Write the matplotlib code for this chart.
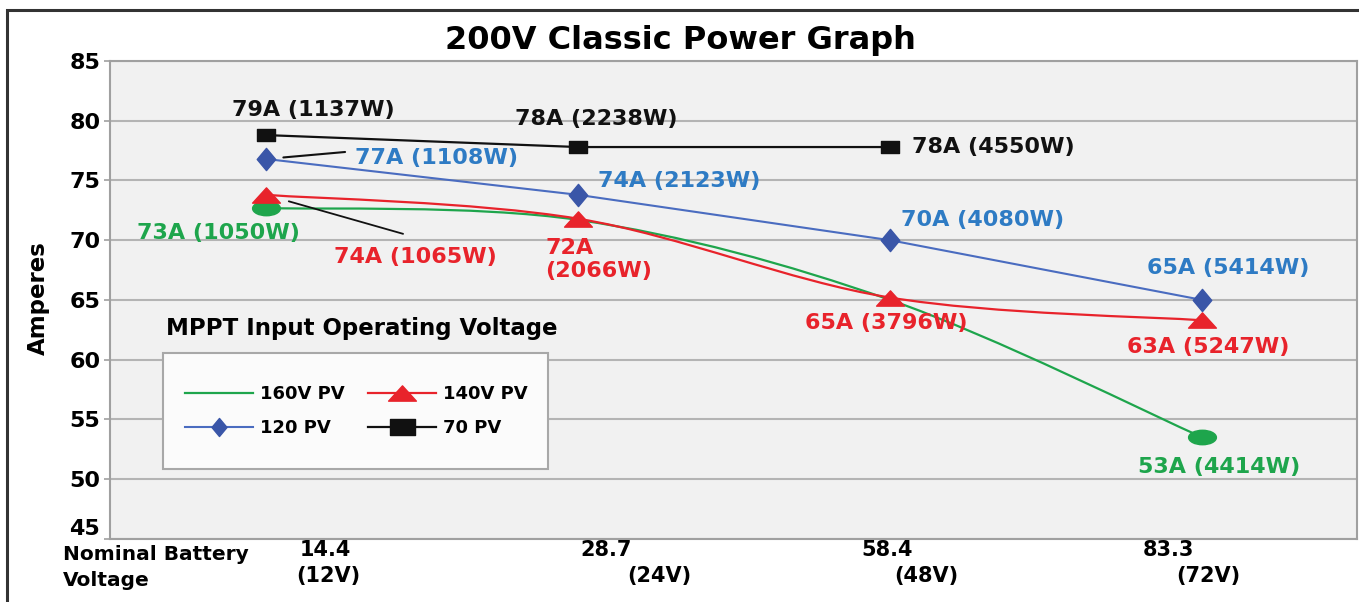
import numpy as np
import matplotlib
matplotlib.use('Agg')
import matplotlib.pyplot as plt
from matplotlib.path import Path
from matplotlib.patches import PathPatch, Rectangle
from matplotlib.lines import Line2D
from matplotlib.transforms import Affine2D, blended_transform_factory

# battery voltage categories
categories = ['14.4', '28.7', '58.4', '83.3']
nominal = ['(12V)', '(24V)', '(48V)', '(72V)']

# amperes
pv160 = [72.7, 71.7, 65.0, 53.5]
pv140 = [73.8, 71.8, 65.2, 63.3]
pv120 = [76.8, 73.8, 70.0, 65.0]
pv70 = [78.8, 77.8, 77.8]

# point labels (None = unlabeled)
labels160 = ['73A (1050W)', None, None, '53A (4414W)']
labels140 = ['74A (1065W)', '72A\n(2066W)', '65A (3796W)', '63A (5247W)']
labels120 = ['77A (1108W)', '74A (2123W)', '70A (4080W)', '65A (5414W)']
labels70 = ['79A (1137W)', '78A (2238W)', '78A (4550W)']

GREEN = '#1ea54c'
RED = '#e8232b'
BLUE_LINE = '#4a6cc0'
BLUE_MK = '#3a56a8'
BLUE_TXT = '#2e7bc4'
BLACK = '#111111'

W, H = 1359, 602
plt.rcParams['font.family'] = ['DejaVu Sans']
plt.rcParams['font.weight'] = 'bold'


def smooth_path(xs, ys):
    # excel-style smoothed line as cubic bezier segments
    pts = np.column_stack([xs, ys]).astype(float)
    n = len(pts)
    verts = [pts[0]]
    codes = [Path.MOVETO]
    for i in range(n - 1):
        p0 = pts[max(i - 1, 0)]
        p1 = pts[i]
        p2 = pts[i + 1]
        p3 = pts[min(i + 2, n - 1)]
        verts += [p1 + (p2 - p0) / 6, p2 - (p3 - p1) / 6, p2]
        codes += [Path.CURVE4] * 3
    return Path(verts, codes)


def poly_marker(verts):
    return Path(verts + [verts[0]], [Path.MOVETO] + [Path.LINETO] * (len(verts) - 1) + [Path.CLOSEPOLY])


m_rect = poly_marker([(-1, -0.65), (1, -0.65), (1, 0.65), (-1, 0.65)])
m_diam = poly_marker([(0, 1.2), (1, 0), (0, -1.2), (-1, 0)])
m_tri = poly_marker([(0, 0.55), (1, -0.55), (-1, -0.55)])
m_ell = Path.unit_circle().transformed(Affine2D().scale(1, 0.52))

fig = plt.figure(figsize=(W / 100, H / 100), dpi=100)
fig.patch.set_facecolor('white')
ax = fig.add_axes([110 / W, 1 - 539 / H, 1247 / W, 478 / H])
ax.set_facecolor('#f1f1f1')

x = np.arange(len(categories))

# lines
ax.plot(x[:len(pv70)], pv70, color=BLACK, lw=1.6, zorder=3)
ax.plot(x[:len(pv70)], pv70, ls='none', marker=m_rect, ms=13, color=BLACK, zorder=4)
ax.plot(x, pv120, color=BLUE_LINE, lw=1.5, zorder=3)
ax.plot(x, pv120, ls='none', marker=m_diam, ms=16, color=BLUE_MK, zorder=4)
ax.add_patch(PathPatch(smooth_path(x, pv160), fill=False, edgecolor=GREEN, lw=1.6, zorder=3))
ax.plot(x[[0, -1]], np.array(pv160)[[0, -1]], ls='none', marker=m_ell, ms=20, color=GREEN, zorder=4)
ax.add_patch(PathPatch(smooth_path(x, pv140), fill=False, edgecolor=RED, lw=1.6, zorder=3))
ax.plot(x, pv140, ls='none', marker=m_tri, ms=20, color=RED, zorder=4)

ax.set_xlim(-0.5, 3.495)
ax.set_ylim(45, 85)
ax.set_yticks(range(45, 90, 5))
ax.set_xticks([])
ax.grid(axis='y', color='#b4b4b4', lw=1.5)
ax.set_axisbelow(True)
for s in ax.spines.values():
    s.set_color('#a0a0a0')
    s.set_linewidth(1.5)
ax.tick_params(axis='y', length=4, width=1.2, color='#a0a0a0', pad=3, labelsize=16)
# bottom label sits just above the axis floor, like the original
ax.yaxis.get_major_ticks()[0].label1.set_va('bottom')

# data labels, offsets in pixels from the point
def put(xi, v, text, color, dx, dy, ha='center'):
    if text is None:
        return
    ax.annotate(text, xy=(xi, v), xytext=(dx, dy), textcoords='offset pixels',
                ha=ha, va='center', color=color, fontsize=16, fontweight='bold',
                multialignment='left', zorder=6)

put(0, pv70[0], labels70[0], BLACK, 47, 25)
put(1, pv70[1], labels70[1], BLACK, 18, 28)
put(2, pv70[2], labels70[2], BLACK, 22, 0, 'left')

put(0, pv120[0], labels120[0], BLUE_TXT, 89, 1, 'left')
put(1, pv120[1], labels120[1], BLUE_TXT, 20, 14, 'left')
put(2, pv120[2], labels120[2], BLUE_TXT, 92, 20)
put(3, pv120[3], labels120[3], BLUE_TXT, 26, 32)

put(0, pv140[0], labels140[0], RED, 149, -62)
put(1, pv140[1], labels140[1], RED, -33, -41, 'left')
put(2, pv140[2], labels140[2], RED, -4, -25)
put(3, pv140[3], labels140[3], RED, 6, -27)

put(0, pv160[0], labels160[0], GREEN, -48, -25)
put(3, pv160[3], labels160[3], GREEN, 17, -30)

# leader lines
ax.annotate('', xy=(0, pv120[0]), xytext=(79, 7), textcoords='offset pixels',
            arrowprops=dict(arrowstyle='-', color=BLACK, lw=1.5, shrinkA=0, shrinkB=12.5), zorder=5)
ax.annotate('', xy=(0, pv140[0]), xytext=(137, -39), textcoords='offset pixels',
            arrowprops=dict(arrowstyle='-', color=BLACK, lw=1.3, shrinkA=0, shrinkB=17), zorder=5)

# x category labels under the axis
tr = blended_transform_factory(ax.transData, fig.transFigure)
shift1 = [0.19, 0.09, -0.01, -0.11]
shift2 = [0.20, 0.26, 0.115, 0.02]
for i in range(len(categories)):
    ax.text(i + shift1[i], 1 - 550 / H, categories[i], transform=tr, ha='center', va='center',
            fontsize=15, fontweight='bold', clip_on=False)
    ax.text(i + shift2[i], 1 - 576 / H, nominal[i], transform=tr, ha='center', va='center',
            fontsize=15, fontweight='bold', clip_on=False)

fig.text(63 / W, 1 - 554 / H, 'Nominal Battery', ha='left', va='center', fontsize=14.5, fontweight='bold')
fig.text(63 / W, 1 - 580 / H, 'Voltage', ha='left', va='center', fontsize=14.5, fontweight='bold')
fig.text(38 / W, 1 - 298 / H, 'Amperes', rotation=90, ha='center', va='center', fontsize=16.5, fontweight='bold')
fig.text(680 / W, 1 - 40 / H, '200V Classic Power Graph', ha='center', va='center', fontsize=23, fontweight='bold')

# legend
fig.text(166 / W, 1 - 328 / H, 'MPPT Input Operating Voltage', ha='left', va='center', fontsize=16.5, fontweight='bold')
ax.add_patch(Rectangle((163 / W, 1 - 469 / H), 385 / W, 116 / H, transform=fig.transFigure,
                       facecolor='#fbfbfb', edgecolor='#a8a8a8', lw=1.5, zorder=7, clip_on=False))
handles = [
    Line2D([], [], color=GREEN, lw=1.6),
    Line2D([], [], color=BLUE_LINE, lw=1.5, marker=m_diam, ms=13, mfc=BLUE_MK, mec=BLUE_MK),
    Line2D([], [], color=RED, lw=1.6, marker=m_tri, ms=20, mfc=RED, mec=RED),
    Line2D([], [], color=BLACK, lw=1.6, marker=m_rect, ms=18, mfc=BLACK, mec=BLACK),
]
names = ['160V PV', '120 PV', '140V PV', '70 PV']
leg = ax.legend(handles, names, ncol=2, frameon=False, loc='center',
                bbox_to_anchor=(356 / W, 1 - 411 / H), bbox_transform=fig.transFigure,
                fontsize=13, handlelength=3.8, handletextpad=0.35, columnspacing=1.3,
                labelspacing=0.9, borderpad=0)
leg.set_zorder(8)
for t in leg.get_texts():
    t.set_fontweight('bold')

# outer frame
fig.patches.append(Rectangle((7 / W, -0.1), 1.2, 1 - 10 / H + 0.1, transform=fig.transFigure,
                             fill=False, edgecolor='#333333', lw=2.2, zorder=10))

fig.savefig('out.png', dpi=100)
